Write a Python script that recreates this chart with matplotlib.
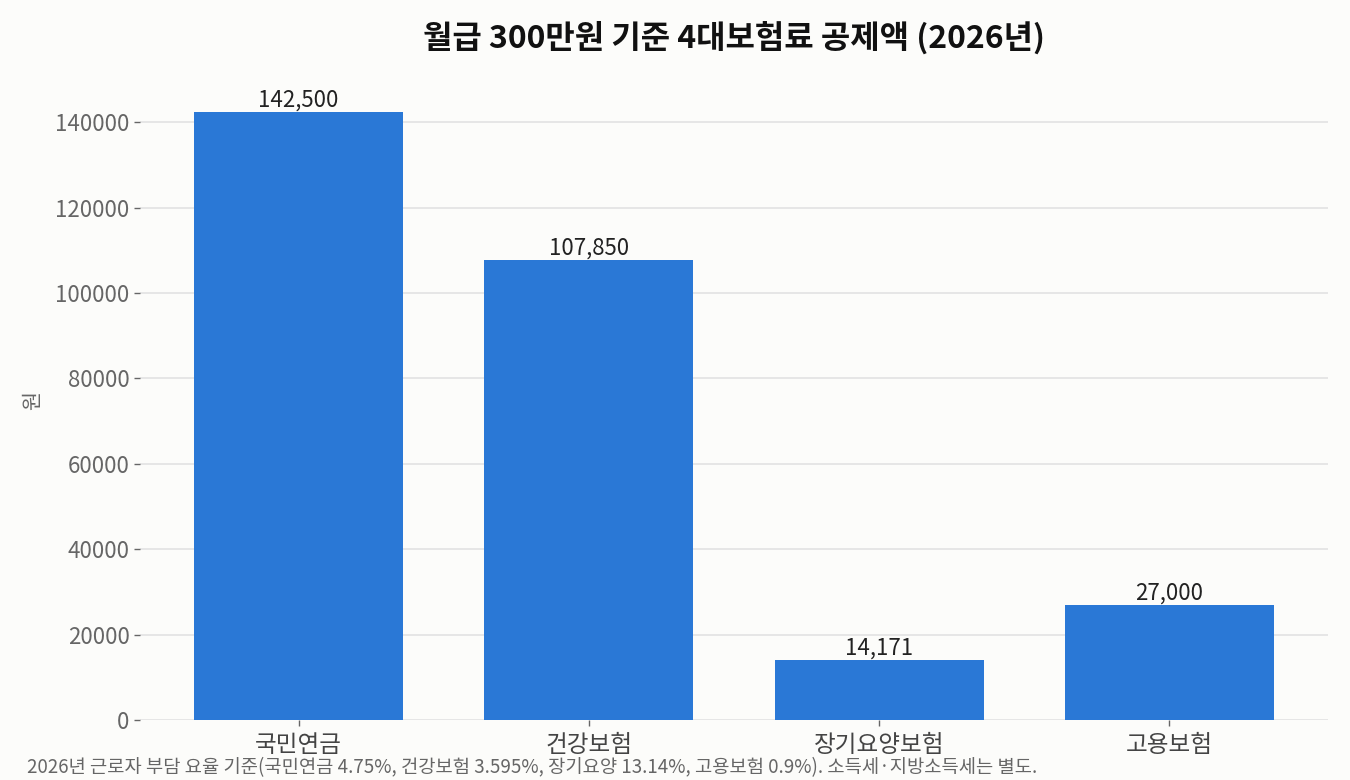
import matplotlib
matplotlib.use('Agg')
import matplotlib.pyplot as plt

plt.rcParams['font.family'] = ['Noto Sans CJK KR', 'DejaVu Sans']
plt.rcParams['font.weight'] = 'light'

categories = ['국민연금', '건강보험', '장기요양보험', '고용보험']
values = [142500, 107850, 14171, 27000]

BG = '#fcfcfa'
BAR = '#2a78d6'

fig = plt.figure(figsize=(13.5, 7.8), dpi=100, facecolor=BG)
ax = fig.add_axes([0.1037, 0.0769, 0.88, 0.819])
ax.set_facecolor(BG)

bars = ax.bar(categories, values, width=0.72, color=BAR, zorder=3)

# value labels above bars
for rect, v in zip(bars, values):
    ax.text(rect.get_x() + rect.get_width() / 2, rect.get_height(), f'{v:,}',
            ha='center', va='bottom', fontsize=16, color='#222222', zorder=4)

ax.set_title('월급 300만원 기준 4대보험료 공제액 (2026년)', fontsize=23,
             fontweight='bold', color='#111111', pad=24)
ax.set_ylabel('원', fontsize=15, color='#666666', labelpad=8)

ax.grid(axis='y', color='#e2e2e2', linewidth=1.2, zorder=0)
for s in ax.spines.values():
    s.set_visible(False)
ax.tick_params(axis='y', colors='#666666', labelsize=16, length=4, width=1)
ax.tick_params(axis='x', colors='#666666', labelsize=17, length=4, width=1, pad=6)
for lbl in ax.get_xticklabels():
    lbl.set_color('#444444')

fig.text(0.02, 0.003, '2026년 근로자 부담 요율 기준(국민연금 4.75%, 건강보험 3.595%, 장기요양 13.14%, 고용보험 0.9%). 소득세·지방소득세는 별도.',
         fontsize=13.5, color='#666666', ha='left', va='bottom')

fig.savefig('out.png', dpi=100, facecolor=BG)
